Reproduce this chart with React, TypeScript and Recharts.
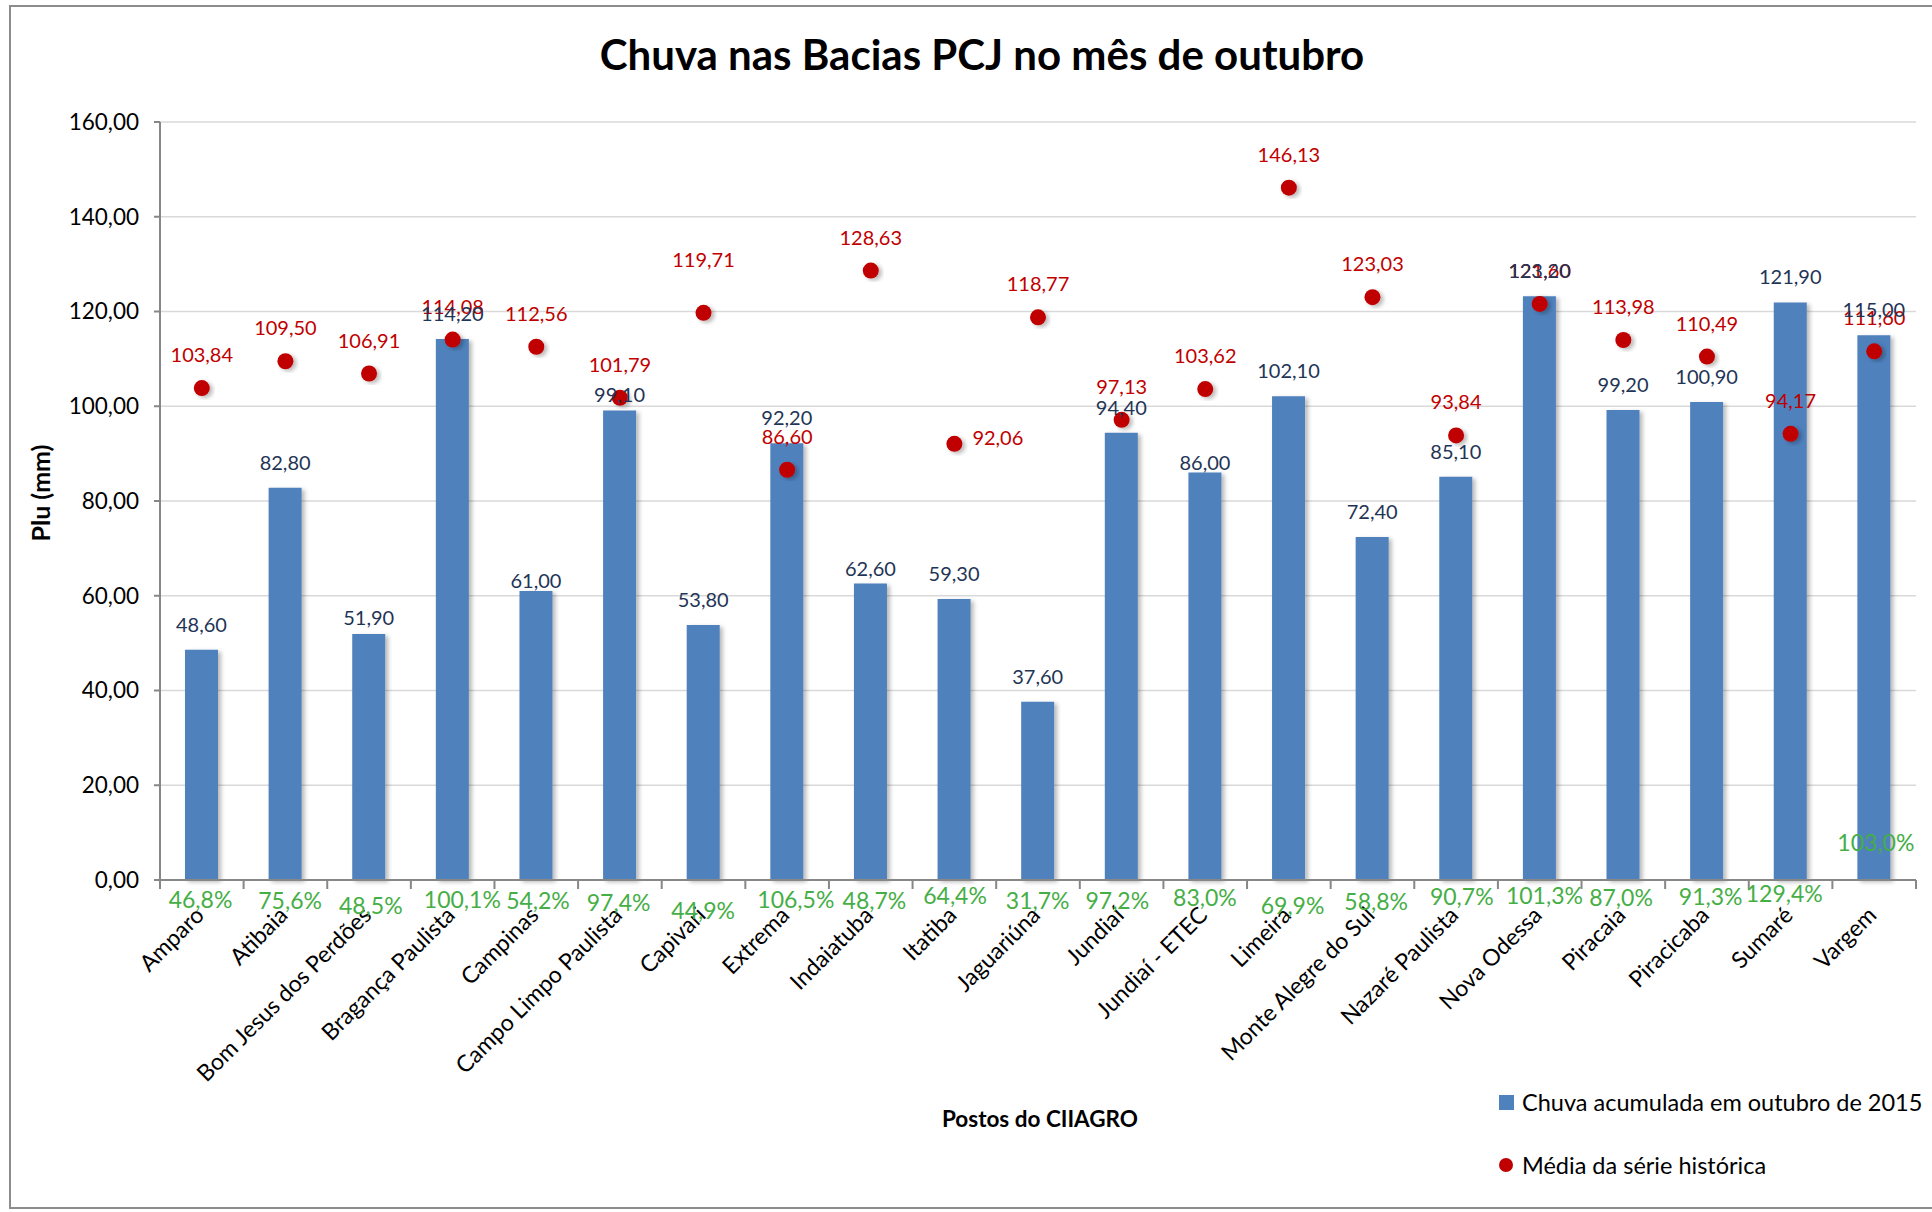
import React from 'react';
import {
  ComposedChart,
  Bar,
  Scatter,
  XAxis,
  YAxis,
  CartesianGrid,
  LabelList,
  Legend,
  Rectangle,
} from 'recharts';

// ---------- data ----------
const stations = [
  'Amparo',
  'Atibaia',
  'Bom Jesus dos Perdões',
  'Bragança Paulista',
  'Campinas',
  'Campo Limpo Paulista',
  'Capivari',
  'Extrema',
  'Indaiatuba',
  'Itatiba',
  'Jaguariúna',
  'Jundiaí',
  'Jundiaí - ETEC',
  'Limeira',
  'Monte Alegre do Sul',
  'Nazaré Paulista',
  'Nova Odessa',
  'Piracaia',
  'Piracicaba',
  'Sumaré',
  'Vargem',
];
const rainOct2015 = [
  48.6, 82.8, 51.9, 114.2, 61.0, 99.1, 53.8, 92.2, 62.6, 59.3, 37.6, 94.4, 86.0,
  102.1, 72.4, 85.1, 123.2, 99.2, 100.9, 121.9, 115.0,
];
const historicalMean = [
  103.84, 109.5, 106.91, 114.08, 112.56, 101.79, 119.71, 86.6, 128.63, 92.06,
  118.77, 97.13, 103.62, 146.13, 123.03, 93.84, 121.6, 113.98, 110.49, 94.17,
  111.6,
];
const percentOfMean = [
  '46,8%', '75,6%', '48,5%', '100,1%', '54,2%', '97,4%', '44,9%', '106,5%',
  '48,7%', '64,4%', '31,7%', '97,2%', '83,0%', '69,9%', '58,8%', '90,7%',
  '101,3%', '87,0%', '91,3%', '129,4%', '103,0%',
];
const yTicks = [0, 20, 40, 60, 80, 100, 120, 140, 160];

const TITLE = 'Chuva nas Bacias PCJ no mês de outubro';
const Y_TITLE = 'Plu (mm)';
const X_TITLE = 'Postos do CIIAGRO';
const BAR_NAME = 'Chuva acumulada em outubro de 2015';
const MEAN_NAME = 'Média da série histórica';

const chartData = stations.map((name, i) => ({
  name,
  rain: rainOct2015[i],
  mean: historicalMean[i],
  pct: percentOfMean[i],
}));

// ---------- layout / style ----------
const W = 1932;
const H = 1212;
const PLOT_LEFT = 160;
const PLOT_RIGHT = 1916;
const PLOT_TOP = 122;
const PLOT_BOTTOM = 880;
const Y_AXIS_W = 100;
const X_AXIS_H = 250;

const FONT = "Lato, Carlito, 'Liberation Sans', sans-serif";
const BAR_COLOR = '#4F81BD';
const RED = '#C00000';
const GREEN = '#45AE45';
const NAVY = '#1F3556';
const AXIS_GRAY = '#878787';
const GRID_GRAY = '#D9D9D9';

// label nudges (px), reproducing the hand-placed labels of the original
const PCT_DY = [20, 21, 26, 20, 21, 23, 31, 20, 21, 16, 21, 21, 18, 26, 22, 17, 16, 18, 17, 14, -37];
const PCT_DX = [-1, 5, 2, 10, 2, -1, 0, 9, 4, 1, 0, -4, 0, 4, 4, 6, 5, -2, 4, -6, 2];
const RAIN_LABEL_GAP: Record<number, number> = { 2: 16, 4: 10, 5: 16, 8: 14, 12: 10 };
const MEAN_LABEL_GAP: Record<number, number> = { 6: 53 };
const MEAN_LABEL_RIGHT = new Set([9]);

const fmt = (v: number) => v.toFixed(2).replace('.', ',');

const CategoryTick = (props: any) => {
  const { x, payload, index } = props;
  const band = (PLOT_RIGHT - PLOT_LEFT) / stations.length;
  const isLast = index === stations.length - 1;
  return (
    <g>
      <line x1={x - band / 2} y1={PLOT_BOTTOM} x2={x - band / 2} y2={PLOT_BOTTOM + 9} stroke={AXIS_GRAY} strokeWidth={2} />
      {isLast && (
        <line x1={x + band / 2} y1={PLOT_BOTTOM} x2={x + band / 2} y2={PLOT_BOTTOM + 9} stroke={AXIS_GRAY} strokeWidth={2} />
      )}
      <text
        transform={`translate(${x - 2},${PLOT_BOTTOM + 31}) rotate(-45)`}
        textAnchor="end"
        dy="0.35em"
        fontFamily={FONT}
        fontSize={23}
        fill="#000"
      >
        {payload.value}
      </text>
    </g>
  );
};

const RainLabel = (props: any) => {
  const { x, y, width, value, index } = props;
  const gap = RAIN_LABEL_GAP[index] ?? 25;
  return (
    <text x={x + width / 2} y={y - gap} textAnchor="middle" dy="0.35em" fontFamily={FONT} fontSize={20} fill={NAVY}>
      {fmt(Number(value))}
    </text>
  );
};

const PctLabel = (props: any) => {
  const { x, width, index, value } = props;
  return (
    <text
      x={x + width / 2 + PCT_DX[index]}
      y={PLOT_BOTTOM + PCT_DY[index]}
      textAnchor="middle"
      dy="0.35em"
      fontFamily={FONT}
      fontSize={23}
      fill={GREEN}
    >
      {value}
    </text>
  );
};

const BarShape = (props: any) => (
  <Rectangle
    x={props.x}
    y={props.y}
    width={props.width}
    height={props.height}
    fill={BAR_COLOR}
    filter="url(#softShadow)"
  />
);

const MeanShape = (props: any) => {
  const { cx, cy, index, payload } = props;
  const right = MEAN_LABEL_RIGHT.has(index);
  const gap = MEAN_LABEL_GAP[index] ?? 33;
  return (
    <g>
      <circle cx={cx} cy={cy} r={8} fill={RED} filter="url(#softShadow)" />
      <text
        x={right ? cx + 18 : cx}
        y={right ? cy - 6 : cy - gap}
        textAnchor={right ? 'start' : 'middle'}
        dy="0.35em"
        fontFamily={FONT}
        fontSize={20}
        fill={RED}
      >
        {fmt(payload.mean)}
      </text>
    </g>
  );
};

const LegendContent = () => (
  <div style={{ fontFamily: FONT, fontSize: 23.5, color: '#000', whiteSpace: 'nowrap' }}>
    <div style={{ display: 'flex', alignItems: 'center', height: 34 }}>
      <span style={{ display: 'inline-block', width: 15, height: 15, background: BAR_COLOR, marginRight: 8 }} />
      <span>{BAR_NAME}</span>
    </div>
    <div style={{ display: 'flex', alignItems: 'center', height: 34, marginTop: 29 }}>
      <span style={{ display: 'inline-block', width: 14, height: 14, borderRadius: 7, background: RED, marginRight: 9 }} />
      <span>{MEAN_NAME}</span>
    </div>
  </div>
);

export default function App() {
  return (
    <div style={{ position: 'absolute', left: 0, top: 0, width: W, height: H, background: '#fff', overflow: 'hidden' }}>
      <div
        style={{
          position: 'absolute',
          left: 9,
          top: 5,
          width: W,
          height: 1200,
          borderLeft: '2px solid #8C8C8C',
          borderTop: '2px solid #8C8C8C',
          borderBottom: '2px solid #8C8C8C',
        }}
      />
      <div style={{ position: 'absolute', left: 0, top: 0 }}>
        <ComposedChart
          width={W}
          height={H}
          data={chartData}
          margin={{
            top: PLOT_TOP,
            right: W - PLOT_RIGHT,
            left: PLOT_LEFT - Y_AXIS_W,
            bottom: H - PLOT_BOTTOM - X_AXIS_H,
          }}
        >
          <defs>
            <filter id="softShadow" x="-30%" y="-10%" width="160%" height="130%">
              <feDropShadow dx="3" dy="2" stdDeviation="2" floodColor="#000" floodOpacity="0.28" />
            </filter>
          </defs>
          <text x={982} y={55} textAnchor="middle" dy="0.35em" fontFamily={FONT} fontWeight={700} fontSize={42} fill="#000">
            {TITLE}
          </text>
          <text
            transform={`translate(41,493) rotate(-90)`}
            textAnchor="middle"
            dy="0.35em"
            fontFamily={FONT}
            fontWeight={700}
            fontSize={25}
            fill="#000"
          >
            {Y_TITLE}
          </text>
          <text x={1040} y={1119} textAnchor="middle" dy="0.35em" fontFamily={FONT} fontWeight={700} fontSize={22.5} fill="#000">
            {X_TITLE}
          </text>
          <CartesianGrid vertical={false} stroke={GRID_GRAY} strokeWidth={1.5} />
          <XAxis
            dataKey="name"
            height={X_AXIS_H}
            interval={0}
            tickLine={false}
            axisLine={{ stroke: AXIS_GRAY, strokeWidth: 2 }}
            tick={<CategoryTick />}
          />
          <YAxis
            width={Y_AXIS_W}
            domain={[0, 160]}
            ticks={yTicks}
            interval={0}
            tickFormatter={fmt}
            tickSize={6}
            tickMargin={15}
            tickLine={{ stroke: AXIS_GRAY, strokeWidth: 2 }}
            axisLine={{ stroke: AXIS_GRAY, strokeWidth: 2 }}
            tick={{ fontFamily: FONT, fontSize: 22.5, fill: '#000' }}
          />
          <Legend
            layout="horizontal"
            verticalAlign="middle"
            align="center"
            width={440}
            wrapperStyle={{ left: 1499, top: 1085, width: 440 }}
            content={<LegendContent />}
          />
          <Bar dataKey="rain" name={BAR_NAME} barSize={33} fill={BAR_COLOR} shape={<BarShape />} isAnimationActive={false}>
            <LabelList dataKey="rain" content={<RainLabel />} />
            <LabelList dataKey="pct" content={<PctLabel />} />
          </Bar>
          <Scatter dataKey="mean" name={MEAN_NAME} fill={RED} shape={<MeanShape />} isAnimationActive={false} />
        </ComposedChart>
      </div>
    </div>
  );
}
